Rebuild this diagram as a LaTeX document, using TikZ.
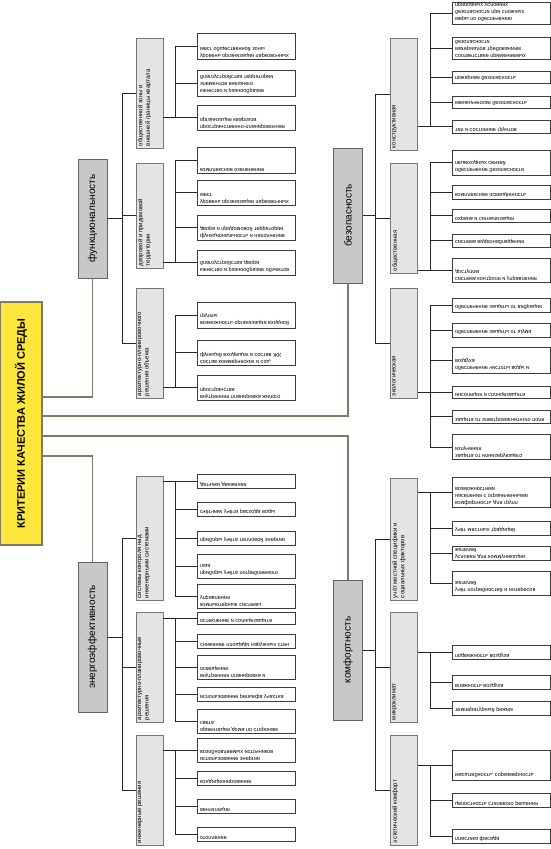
\documentclass[tikz,border=0pt]{standalone}
\usepackage{fontspec}
\setmainfont{Liberation Sans}
\usetikzlibrary{positioning,calc}
\definecolor{crityellow}{HTML}{FFE63C}
\definecolor{critframe}{HTML}{857766}
\definecolor{catgray}{HTML}{C8C8C8}
\definecolor{subgray}{HTML}{E4E4E4}
\definecolor{boxline}{HTML}{3C3C3C}
% leaf text is printed mirrored top to bottom
\newcommand{\flip}[2]{\scalebox{1}[-1]{\parbox[c][#1pt][t]{92pt}{\raggedright #2}}}
\newcommand{\sidetext}[3]{\parbox[c][23pt][t]{#1pt}{\raggedright #3}}
\tikzset{
  crit/.style ={rectangle, draw=critframe, line width=1.2pt, fill=crityellow,
                rotate=90, font=\bfseries\fontsize{11}{13}\selectfont,
                minimum width=243pt, minimum height=42pt, inner sep=0pt},
  cat/.style  ={rectangle, draw=boxline!80, fill=catgray, rotate=90,
                font=\fontsize{10}{12}\selectfont, minimum height=29pt, inner sep=0pt},
  sub/.style  ={rectangle, draw=boxline!70, fill=subgray, rotate=90,
                font=\fontsize{6}{7.5}\selectfont, inner sep=2pt},
  leaf/.style ={rectangle, draw=boxline, fill=white, font=\fontsize{5.5}{7}\selectfont,
                minimum width=98pt, inner sep=2pt},
  lnk/.style  ={draw=black!85, line width=0.7pt},
  root/.style ={draw=critframe, line width=1.4pt},
}
\begin{document}
\begin{tikzpicture}[x=1pt, y=-1pt]
  \useasboundingbox (0,0) rectangle (551,849);

  % root
  \node[crit] (crit) at (21,423.5) {КРИТЕРИИ КАЧЕСТВА ЖИЛОЙ СРЕДЫ};

  % four criteria
  \node[cat, minimum width=119pt] (func) at (92.5,218.5) {функциональность};
  \node[cat, minimum width=135pt] (safe) at (348,215.5) {безопасность};
  \node[cat, minimum width=140pt] (comf) at (348,650) {комфортность};
  \node[cat, minimum width=150pt] (enrg) at (92.5,637) {энергоэффективность};

  \coordinate (yF) at (0,397);
  \coordinate (yS) at (0,416);
  \coordinate (yC) at (0,436);
  \coordinate (yE) at (0,456);
  \draw[root] (crit.south |- yF) -| (func.west);
  \draw[root] (crit.south |- yS) -| (safe.west);
  \draw[root] (crit.south |- yC) -| (comf.east);
  \draw[root] (crit.south |- yE) -| (enrg.east);

  % functionality
  \node[sub] (fPub) at (149.5,93) {\sidetext{106}{}{общественной зоны и\\внешней границы квартала}};
  \node[sub] (fDvo) at (149.5,215.5) {\sidetext{101}{}{дворовой и придомовой\\территории}};
  \node[sub] (fArh) at (149.5,343) {\sidetext{106}{}{архитектурно-планировочного\\решения объема}};

  \node[leaf] (fPub1) at (246,46) {\flip{22}{уровень организации парковочных\\мест общественной зоны}};
  \node[leaf] (fPub2) at (246,83) {\flip{22}{качество и разнообразие\\элементов внешнего\\благоустройства территории}};
  \node[leaf] (fPub3) at (246,117.5) {\flip{21}{пространственно-планировочная\\организация квартала}};
  \node[leaf] (fDvo1) at (246,160) {\flip{22}{комплексное озеленение}};
  \node[leaf] (fDvo2) at (246,192.5) {\flip{21}{уровень организации парковочных\\мест}};
  \node[leaf] (fDvo3) at (246,227.5) {\flip{21}{функциональность и наполнение\\двора и придомовой территории}};
  \node[leaf] (fDvo4) at (246,262.5) {\flip{21}{качество и разнообразие объектов\\благоустройства двора}};
  \node[leaf] (fArh1) at (246,315) {\flip{22}{возможность организации входной\\группы}};
  \node[leaf] (fArh2) at (246,352.5) {\flip{21}{состав коммерческих и соц.\\функций входящих в состав ЖК}};
  \node[leaf] (fArh3) at (246,387.5) {\flip{21}{внутренняя планировка жилого\\пространства}};

  \coordinate (fTr) at (122,0);
  \coordinate (fLf) at (175,0);
  \draw[lnk] (func.south) -- (fTr |- func.south);
  \draw[lnk] (fTr |- fPub.north) -- (fTr |- fArh.north);
  \foreach \s in {fPub,fDvo,fArh} \draw[lnk] (fTr |- \s.north) -- (\s.north);
  \draw[lnk] (fLf |- fPub1.west) -- (fLf |- fPub3.west);
  \draw[lnk] (fLf |- fDvo1.west) -- (fLf |- fDvo4.west);
  \draw[lnk] (fLf |- fArh1.west) -- (fLf |- fArh3.west);
  \foreach \l in {fPub1,fPub2,fPub3,fDvo1,fDvo2,fDvo3,fDvo4,fArh1,fArh2,fArh3}
    \draw[lnk] (fLf |- \l.west) -- (\l.west);
  \draw[lnk] (fPub.south |- fPub3.west) -- (fLf |- fPub3.west);
  \draw[lnk] (fDvo.south |- fDvo4.west) -- (fLf |- fDvo4.west);
  \draw[lnk] (fArh.south |- fArh3.west) -- (fLf |- fArh3.west);

  % safety
  \node[sub] (sCon) at (404,94) {\sidetext{108}{}{конструктивная}};
  \node[sub] (sPub) at (404,218) {\sidetext{106}{}{общественная}};
  \node[sub] (sEco) at (404,343) {\sidetext{106}{}{экологическая}};

  \node[leaf] (sCon1) at (501,13) {\flip{18}{меры по обеспечению\\безопасности при сложных\\природных условиях}};
  \node[leaf] (sCon2) at (501,48) {\flip{18}{соответствие применяемых\\материалов требованиям\\безопасности}};
  \node[leaf] (sCon3) at (501,77) {\flip{8}{пожарная безопасность}};
  \node[leaf] (sCon4) at (501,102) {\flip{8}{механическая безопасность}};
  \node[leaf] (sCon5) at (501,126.5) {\flip{9}{тип и состояние грунтов}};
  \node[leaf] (sPub1) at (501,162.5) {\flip{21}{обеспечение безопасности\\пешеходных связей}};
  \node[leaf] (sPub2) at (501,192) {\flip{10}{комплексная освещённость}};
  \node[leaf] (sPub3) at (501,215.5) {\flip{9}{охрана и сигнализация}};
  \node[leaf] (sPub4) at (501,240.5) {\flip{9}{система видеонаблюдения}};
  \node[leaf] (sPub5) at (501,270) {\flip{20}{система контроля и управления\\доступом}};
  \node[leaf] (sEco1) at (501,305) {\flip{10}{обеспечение защиты от вибрации}};
  \node[leaf] (sEco2) at (501,330) {\flip{10}{обеспечение защиты от шума}};
  \node[leaf] (sEco3) at (501,360) {\flip{22}{обеспечение чистоты воды и\\воздуха}};
  \node[leaf] (sEco4) at (501,392) {\flip{8}{инсоляция и солнцезащита}};
  \node[leaf] (sEco5) at (501,416.5) {\flip{9}{защита от электромагнитного поля}};
  \node[leaf] (sEco6) at (501,447) {\flip{21}{защита от ионизирующего\\излучения}};

  \coordinate (sTr) at (375,0);
  \coordinate (sLf) at (430,0);
  \draw[lnk] (safe.south) -- (sTr |- safe.south);
  \draw[lnk] (sTr |- sCon.north) -- (sTr |- sEco.north);
  \foreach \s in {sCon,sPub,sEco} \draw[lnk] (sTr |- \s.north) -- (\s.north);
  \draw[lnk] (sLf |- sCon1.west) -- (sLf |- sCon5.west);
  \draw[lnk] (sLf |- sPub1.west) -- (sLf |- sPub5.west);
  \draw[lnk] (sLf |- sEco1.west) -- (sLf |- sEco6.west);
  \foreach \l in {sCon1,sCon2,sCon3,sCon4,sCon5,sPub1,sPub2,sPub3,sPub4,sPub5,sEco1,sEco2,sEco3,sEco4,sEco5,sEco6}
    \draw[lnk] (sLf |- \l.west) -- (\l.west);
  \draw[lnk] (sCon.south |- sCon5.west) -- (sLf |- sCon5.west);
  \draw[lnk] (sPub.south |- sPub5.west) -- (sLf |- sPub5.west);
  \draw[lnk] (sEco.south |- sEco4.west) -- (sLf |- sEco4.west);

  % energy efficiency
  \node[sub] (eCtl) at (149.5,538) {\sidetext{120}{}{системы контроля над\\инженерными системами}};
  \node[sub] (eArh) at (149.5,667) {\sidetext{106}{}{архитектурно-планировочные\\решения}};
  \node[sub] (eEng) at (149.5,790) {\sidetext{106}{}{инженерные решения}};

  \node[leaf] (eCtl1) at (246,481) {\flip{10}{датчики движения}};
  \node[leaf] (eCtl2) at (246,509) {\flip{10}{счётчики учёта расхода воды}};
  \node[leaf] (eCtl3) at (246,538) {\flip{10}{приборы учёта тепловой энергии}};
  \node[leaf] (eCtl4) at (246,566) {\flip{20}{приборы учёта потребляемого\\газа}};
  \node[leaf] (eCtl5) at (246,596) {\flip{20}{компьютерные системы\\управления}};
  \node[leaf] (eArh1) at (246,618) {\flip{8}{остекление и солнцезащита}};
  \node[leaf] (eArh2) at (246,641) {\flip{10}{снижение площади наружных стен}};
  \node[leaf] (eArh3) at (246,667) {\flip{20}{внутренняя планировка и\\освещение}};
  \node[leaf] (eArh4) at (246,694) {\flip{10}{использование рельефа участка}};
  \node[leaf] (eArh5) at (246,721) {\flip{20}{ориентация дома по сторонам\\света}};
  \node[leaf] (eEng1) at (246,750) {\flip{20}{использование энергии\\возобновляемых источников}};
  \node[leaf] (eEng2) at (246,778) {\flip{10}{кондиционирование}};
  \node[leaf] (eEng3) at (246,806) {\flip{10}{вентиляция}};
  \node[leaf] (eEng4) at (246,834) {\flip{10}{отопление}};

  \coordinate (eTr) at (122,0);
  \coordinate (eLf) at (175,0);
  \draw[lnk] (enrg.south) -- (eTr |- enrg.south);
  \draw[lnk] (eTr |- eCtl.north) -- (eTr |- eEng.north);
  \foreach \s in {eCtl,eArh,eEng} \draw[lnk] (eTr |- \s.north) -- (\s.north);
  \draw[lnk] (eLf |- eCtl1.west) -- (eLf |- eCtl5.west);
  \draw[lnk] (eLf |- eArh1.west) -- (eLf |- eArh5.west);
  \draw[lnk] (eLf |- eEng1.west) -- (eLf |- eEng4.west);
  \foreach \l in {eCtl1,eCtl2,eCtl3,eCtl4,eCtl5,eArh1,eArh2,eArh3,eArh4,eArh5,eEng1,eEng2,eEng3,eEng4}
    \draw[lnk] (eLf |- \l.west) -- (\l.west);
  \draw[lnk] (eCtl.south |- eCtl1.west) -- (eLf |- eCtl1.west);
  \draw[lnk] (eArh.south |- eArh1.west) -- (eLf |- eArh1.west);
  \draw[lnk] (eEng.south |- eEng1.west) -- (eLf |- eEng1.west);

  % comfort
  \node[sub] (cLoc) at (404,539) {\sidetext{118}{}{учёт местной специфики и\\социальных факторов}};
  \node[sub] (cMic) at (404,667) {\sidetext{106}{}{микроклимат}};
  \node[sub] (cEst) at (404,790) {\sidetext{106}{}{эстетический комфорт}};

  \node[leaf] (cLoc1) at (501,492) {\flip{26}{комфортность для групп\\населения с ограниченными\\возможностями}};
  \node[leaf] (cLoc2) at (501,528) {\flip{10}{учёт местных традиций}};
  \node[leaf] (cLoc3) at (501,553) {\flip{10}{условия для коммуникации жителей}};
  \node[leaf] (cLoc4) at (501,583) {\flip{20}{учёт потребностей и интересов\\жителей}};
  \node[leaf] (cMic1) at (501,652) {\flip{10}{подвижность воздуха}};
  \node[leaf] (cMic2) at (501,682) {\flip{10}{влажность воздуха}};
  \node[leaf] (cMic3) at (501,708) {\flip{10}{температурный режим}};
  \node[leaf] (cEst1) at (501,765) {\flip{26}{масштабность, соразмерность}};
  \node[leaf] (cEst2) at (501,800) {\flip{10}{целостность стилевого решения}};
  \node[leaf] (cEst3) at (501,836) {\flip{10}{пластика фасада}};

  \coordinate (cTr) at (375,0);
  \coordinate (cLf) at (430,0);
  \draw[lnk] (comf.south) -- (cTr |- comf.south);
  \draw[lnk] (cTr |- cLoc.north) -- (cTr |- cEst.north);
  \foreach \s in {cLoc,cMic,cEst} \draw[lnk] (cTr |- \s.north) -- (\s.north);
  \draw[lnk] (cLf |- cLoc1.west) -- (cLf |- cLoc4.west);
  \draw[lnk] (cLf |- cMic1.west) -- (cLf |- cMic3.west);
  \draw[lnk] (cLf |- cEst1.west) -- (cLf |- cEst3.west);
  \foreach \l in {cLoc1,cLoc2,cLoc3,cLoc4,cMic1,cMic2,cMic3,cEst1,cEst2,cEst3}
    \draw[lnk] (cLf |- \l.west) -- (\l.west);
  \draw[lnk] (cLoc.south |- cLoc1.west) -- (cLf |- cLoc1.west);
  \draw[lnk] (cMic.south |- cMic1.west) -- (cLf |- cMic1.west);
  \draw[lnk] (cEst.south |- cEst1.west) -- (cLf |- cEst1.west);
\end{tikzpicture}
\end{document}
